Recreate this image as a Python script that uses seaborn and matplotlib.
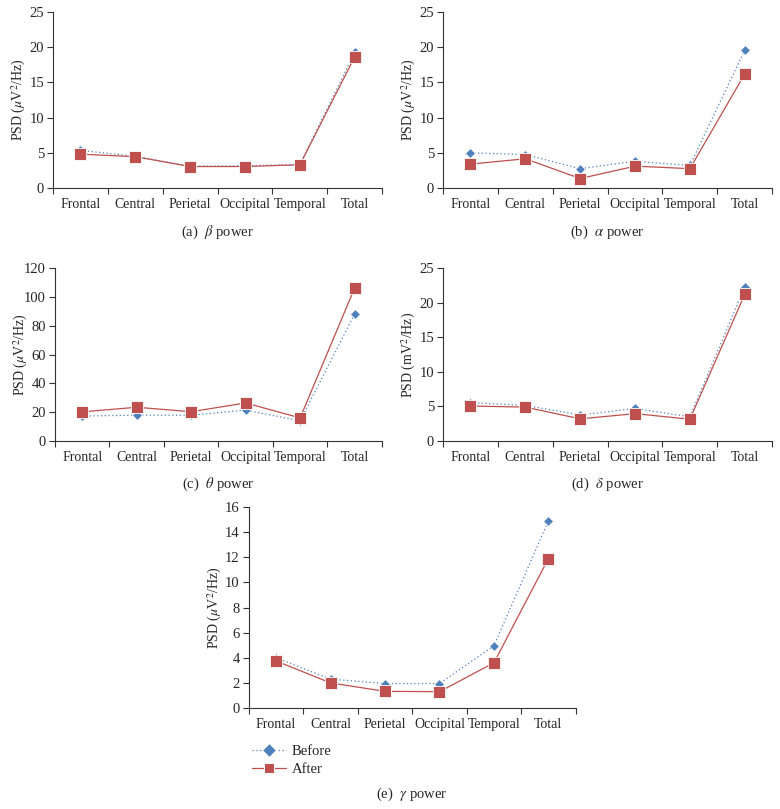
import numpy as np
import pandas as pd
import matplotlib
matplotlib.use('Agg')
import matplotlib.pyplot as plt
import seaborn as sns

# 數據
regions = ['Frontal', 'Central', 'Perietal', 'Occipital', 'Temporal', 'Total']

beta_before = [5.35, 4.5, 3.1, 3.15, 3.35, 19.3]
beta_after = [4.8, 4.45, 3.05, 3.05, 3.3, 18.65]

alpha_before = [5.0, 4.75, 2.75, 3.8, 3.2, 19.6]
alpha_after = [3.4, 4.15, 1.35, 3.1, 2.75, 16.2]

theta_before = [17.3, 17.9, 17.9, 21.4, 14.0, 88.0]
theta_after = [20.2, 23.4, 20.3, 26.4, 16.0, 106.0]

delta_before = [5.55, 5.15, 3.75, 4.7, 3.5, 22.3]
delta_after = [5.05, 4.9, 3.2, 3.95, 3.15, 21.2]

gamma_before = [4.0, 2.3, 1.95, 1.95, 4.95, 14.9]
gamma_after = [3.75, 2.0, 1.33, 1.3, 3.6, 11.9]

sns.set_theme(style='ticks')
plt.rcParams['font.family'] = ['Liberation Serif', 'DejaVu Serif']
plt.rcParams['mathtext.fontset'] = 'stix'

blue = '#4F81BD'
red = '#C0504D'

fig = plt.figure(figsize=(7.8, 8.09), dpi=100)

panels = [
    # (before, after, ymax, ystep, ylabel, caption, [left, bottom, width, height])
    (beta_before, beta_after, 25, 5, r'PSD ($\mu$V$^2$/Hz)', r'(a)  $\beta$ power',
     [0.068, 0.7676, 0.422, 0.2176]),
    (alpha_before, alpha_after, 25, 5, r'PSD ($\mu$V$^2$/Hz)', r'(b)  $\alpha$ power',
     [0.568, 0.7676, 0.422, 0.2176]),
    (theta_before, theta_after, 120, 20, r'PSD ($\mu$V$^2$/Hz)', r'(c)  $\theta$ power',
     [0.0705, 0.4549, 0.419, 0.2138]),
    (delta_before, delta_after, 25, 5, r'PSD (mV$^2$/Hz)', r'(d)  $\delta$ power',
     [0.568, 0.4549, 0.422, 0.2138]),
    (gamma_before, gamma_after, 16, 2, r'PSD ($\mu$V$^2$/Hz)', r'(e)  $\gamma$ power',
     [0.319, 0.1248, 0.419, 0.2485]),
]

for i, (before, after, ymax, ystep, ylabel, caption, rect) in enumerate(panels):
    ax = fig.add_axes(rect)
    df = pd.DataFrame({
        'region': regions * 2,
        'PSD': before + after,
        'group': ['Before'] * 6 + ['After'] * 6,
    })
    sns.lineplot(data=df, x='region', y='PSD', hue='group', style='group',
                 hue_order=['Before', 'After'], style_order=['Before', 'After'],
                 palette={'Before': blue, 'After': red},
                 markers={'Before': 'D', 'After': 's'},
                 dashes={'Before': (1, 2), 'After': ''},
                 linewidth=0.9, markersize=7, ax=ax, legend=(i == 4))
    # 調整標記大小
    for line in ax.lines:
        if line.get_marker() == 'D':
            line.set_markersize(5.5)
        elif line.get_marker() == 's':
            line.set_markersize(8)
        line.set_markeredgewidth(0.6)

    ax.set_xlim(-0.5, 5.5)
    ax.set_ylim(0, ymax)
    ax.set_yticks(np.arange(0, ymax + 0.1, ystep))
    ax.set_xticks(range(6))
    ax.set_xticklabels(regions)
    ax.set_xticks(np.arange(-0.5, 6, 1), minor=True)
    ax.tick_params(axis='x', which='major', length=0, pad=7, labelsize=10)
    ax.tick_params(axis='x', which='minor', length=4, width=0.8, color='#333333')
    ax.tick_params(axis='y', length=4, width=0.8, pad=2.5, color='#333333',
                   labelsize=10.5)
    for s in ['top', 'right']:
        ax.spines[s].set_visible(False)
    for s in ['left', 'bottom']:
        ax.spines[s].set_color('#333333')
        ax.spines[s].set_linewidth(0.8)
    ax.set_xlabel('')
    ax.set_ylabel(ylabel, fontsize=10)
    ax.yaxis.set_label_coords(-0.076, 0.5)
    ax.text(0.5, -0.25 if i < 4 else -0.43, caption,
            transform=ax.transAxes, ha='center', va='center', fontsize=10.5)

    if i == 4:
        leg = ax.get_legend()
        handles = leg.legend_handles
        ax.legend(handles, ['Before', 'After'], loc='upper left',
                  bbox_to_anchor=(-0.03, -0.12), frameon=False,
                  fontsize=10.5, handlelength=2.3, handletextpad=0.4,
                  labelspacing=0.3)

fig.savefig('out.png', dpi=100)
